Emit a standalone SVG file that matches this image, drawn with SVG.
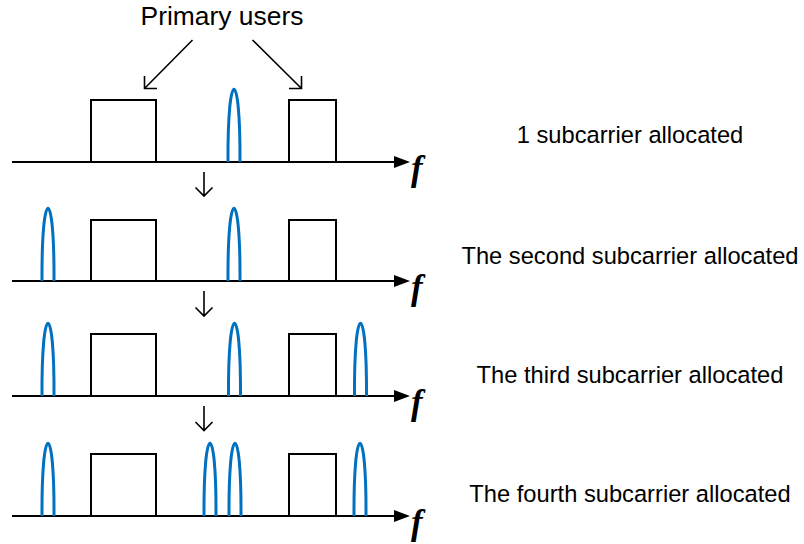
<svg xmlns="http://www.w3.org/2000/svg" width="804" height="544" viewBox="0 0 804 544">
<defs>
<style>
.axis{stroke:#000;stroke-width:2;fill:none}
.head{fill:#000}
.pu{fill:#fff;stroke:#000;stroke-width:2}
.sc{fill:none;stroke:#0070C0;stroke-width:3}
.conn{fill:none;stroke:#000;stroke-width:1.6}
.lbl{font-family:"Liberation Sans",Arial,sans-serif;font-size:23.7px;fill:#000;text-anchor:middle}
.title{font-family:"Liberation Sans",Arial,sans-serif;font-size:26.4px;fill:#000;text-anchor:middle}
.f{font-family:"Liberation Serif","Times New Roman",serif;font-style:italic;font-weight:bold;font-size:35px;fill:#000}
</style>
<path id="pulse" class="sc" d="M-6,0 C-6.5,-97 6.5,-97 6,0"/>
</defs>
<rect width="804" height="544" fill="#fff"/>

<g id="title">
<text class="title" x="222" y="25">Primary users</text>
</g>

<g id="row1">
<line class="axis" x1="12" y1="162" x2="398" y2="162"/>
<polygon class="head" points="394,156 410,162 394,168"/>
<text class="f" x="411" y="180">f</text>
<rect id="pu1a" class="pu" x="91" y="100" width="65" height="62"/>
<rect id="pu1b" class="pu" x="289" y="100" width="47" height="62"/>
<use href="#pulse" x="234" y="162"/>
<text class="lbl" x="630" y="143">1 subcarrier allocated</text>
</g>

<g id="row2">
<line class="axis" x1="12" y1="281" x2="398" y2="281"/>
<polygon class="head" points="394,275 410,281 394,287"/>
<text class="f" x="411" y="299">f</text>
<rect class="pu" x="91" y="220" width="65" height="61"/>
<rect class="pu" x="289" y="220" width="47" height="61"/>
<use href="#pulse" x="48" y="281"/>
<use href="#pulse" x="234" y="281"/>
<text class="lbl" x="630" y="264">The second subcarrier allocated</text>
</g>

<g id="row3">
<line class="axis" x1="12" y1="396" x2="398" y2="396"/>
<polygon class="head" points="394,390 410,396 394,402"/>
<text class="f" x="411" y="414">f</text>
<rect class="pu" x="91" y="334" width="65" height="62"/>
<rect class="pu" x="289" y="334" width="47" height="62"/>
<use href="#pulse" x="48" y="396"/>
<use href="#pulse" x="234.5" y="396"/>
<use href="#pulse" x="360.5" y="396"/>
<text class="lbl" x="630" y="383">The third subcarrier allocated</text>
</g>

<g id="row4">
<line class="axis" x1="12" y1="516" x2="398" y2="516"/>
<polygon class="head" points="394,510 410,516 394,522"/>
<text class="f" x="411" y="534">f</text>
<rect class="pu" x="91" y="454" width="65" height="62"/>
<rect class="pu" x="289" y="454" width="47" height="62"/>
<use href="#pulse" x="48" y="516"/>
<use href="#pulse" x="210" y="516"/>
<use href="#pulse" x="235" y="516"/>
<use href="#pulse" x="360" y="516"/>
<text class="lbl" x="630" y="502">The fourth subcarrier allocated</text>
</g>

<g id="connectors">
<path class="conn" d="M192.5,40 L144.5,88.5 M144.5,76 L144.5,88.5 L157,88.5"/>
<path class="conn" d="M252.5,40 L301.5,88.5 M301.5,76 L301.5,88.5 L289,88.5"/>
<path class="conn" d="M204,172 L204,196 M195.5,187.5 L204,196 L212.5,187.5"/>
<path class="conn" d="M204,291 L204,316 M195.5,307.5 L204,316 L212.5,307.5"/>
<path class="conn" d="M204,406 L204,430.5 M195.5,422 L204,430.5 L212.5,422"/>
</g>
</svg>
